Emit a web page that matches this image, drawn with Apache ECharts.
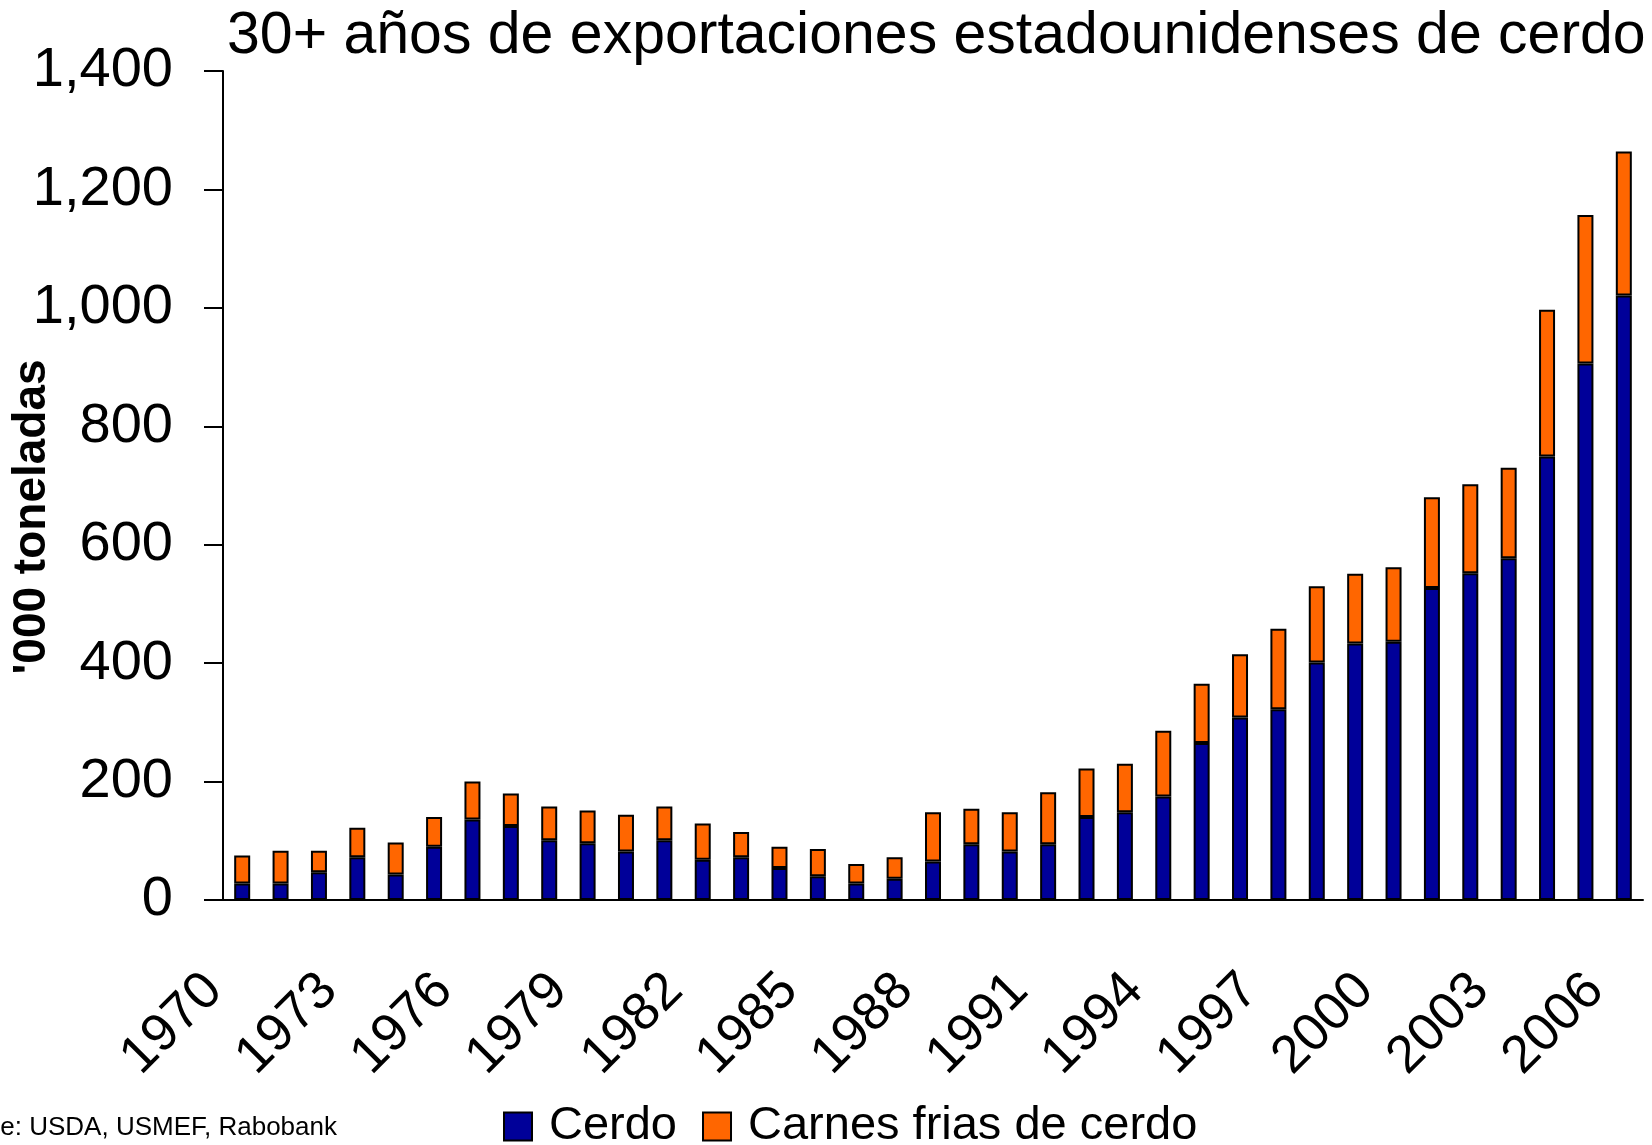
<!DOCTYPE html>
<html>
<head>
<meta charset="utf-8">
<script src="https://cdn.jsdelivr.net/npm/echarts@6/dist/echarts.min.js"></script>
<style>
html, body { margin: 0; padding: 0; background: #fff; }
#main { width: 1652px; height: 1145px; }
</style>
</head>
<body>
<div id="main"></div>
<script>
var myChart = echarts.init(document.getElementById('main'));

// años 1970 - 2006
var years = ['1970','1971','1972','1973','1974','1975','1976','1977','1978','1979',
    '1980','1981','1982','1983','1984','1985','1986','1987','1988','1989',
    '1990','1991','1992','1993','1994','1995','1996','1997','1998','1999',
    '2000','2001','2002','2003','2004','2005','2006'];

// '000 toneladas
var cerdo = [28,28,47,72,43,90,136,125,101,96,
    82,101,68,72,54,40,28,36,65,94,
    82,94,140,148,175,265,308,322,401,433,
    436,527,552,577,749,906,1021];

var carnesFrias = [47,55,36,50,54,50,64,55,57,55,
    62,57,61,43,36,46,33,36,83,60,
    66,88,82,82,111,100,107,136,129,118,
    126,153,150,153,248,251,243];

var yTicks = [0,200,400,600,800,1000,1200,1400];

var colors = ['#000099', '#ff6600'];
var fontName = 'Liberation Sans';

option = {
    animation: false,
    backgroundColor: '#ffffff',
    title: {
        text: '30+ años de exportaciones estadounidenses de cerdo',
        left: 222,
        top: 2,
        textStyle: {
            fontFamily: fontName,
            fontSize: 59,
            fontWeight: 'normal',
            color: '#000'
        }
    },
    legend: {
        data: ['Cerdo', 'Carnes frias de cerdo'],
        left: 498,
        top: 1098,
        icon: 'rect',
        itemWidth: 28,
        itemHeight: 28,
        itemGap: 25,
        textStyle: {
            fontFamily: fontName,
            fontSize: 47,
            color: '#000',
            padding: [0, 0, 0, 12]
        }
    },
    grid: {
        left: 223,
        right: 9,
        top: 71,
        bottom: 245,
        containLabel: false,
        outerBoundsMode: 'none'
    },
    xAxis: {
        type: 'category',
        data: years,
        axisLine: {
            lineStyle: { color: '#000', width: 2 }
        },
        axisTick: {
            interval: 0,
            length: 20,
            lineStyle: { color: '#000', width: 2 }
        },
        axisLabel: {
            interval: 2,
            rotate: 45,
            margin: 54,
            padding: [0, 40, 0, 0],
            fontFamily: fontName,
            fontSize: 53,
            color: '#000'
        }
    },
    yAxis: {
        type: 'value',
        min: yTicks[0],
        max: yTicks[yTicks.length - 1],
        interval: 200,
        splitLine: { show: false },
        axisLine: {
            show: true,
            lineStyle: { color: '#000', width: 2 }
        },
        axisTick: {
            show: true,
            length: 19,
            lineStyle: { color: '#000', width: 2 }
        },
        axisLabel: {
            margin: 50,
            fontFamily: fontName,
            fontSize: 56,
            color: '#000',
            formatter: function (v) {
                return v.toLocaleString('en-US');
            }
        }
    },
    graphic: [
        // nombre del eje y
        {
            type: 'text',
            x: 32,
            y: 517,
            rotation: Math.PI / 2,
            style: {
                text: "'000 toneladas",
                textAlign: 'center',
                textVerticalAlign: 'middle',
                fontFamily: fontName,
                fontSize: 46,
                fontWeight: 'bold',
                fill: '#000'
            }
        },
        {
            type: 'text',
            x: 337,
            y: 1141,
            style: {
                text: 'Source: USDA, USMEF, Rabobank',
                textAlign: 'right',
                textVerticalAlign: 'bottom',
                fontFamily: fontName,
                fontSize: 26,
                fill: '#000'
            }
        }
    ],
    series: [
        //Cerdo
        {
            name: 'Cerdo',
            type: 'bar',
            stack: 'total',
            barWidth: 16,
            data: cerdo,
            itemStyle: {
                color: colors[0],
                borderColor: '#000',
                borderWidth: 2
            }
        },
        //Carnes frias
        {
            name: 'Carnes frias de cerdo',
            type: 'bar',
            stack: 'total',
            barWidth: 16,
            data: carnesFrias,
            itemStyle: {
                color: colors[1],
                borderColor: '#000',
                borderWidth: 2
            }
        }
    ]
};

myChart.setOption(option);

window.onresize = function () {
    myChart.resize();
};
</script>
</body>
</html>
